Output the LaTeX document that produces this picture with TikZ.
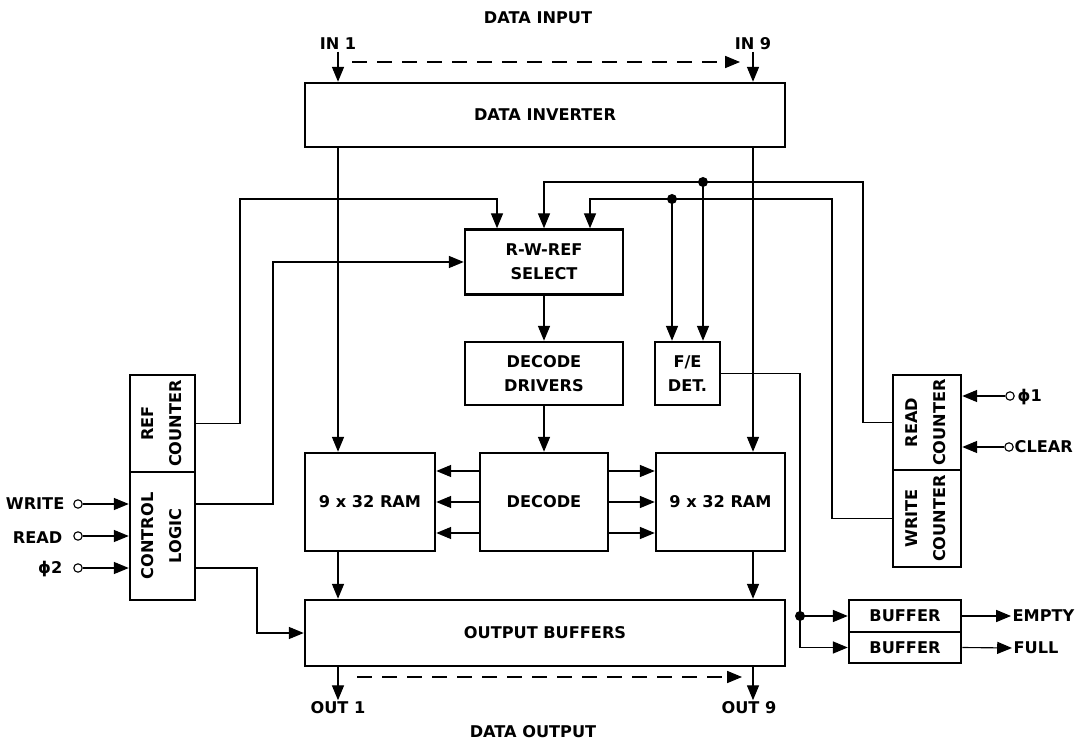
\documentclass[tikz,border=0pt]{standalone}
\usepackage{fontspec}
\setmainfont{DejaVu Sans}
\usepackage{graphicx}
\usepackage{tikz}
\usetikzlibrary{arrows.meta}
\newcommand{\sidelab}[2]{\rotatebox{90}{\begin{tabular}{@{}c@{}}#1\\[3pt]#2\end{tabular}}}
\tikzset{
  wire/.style={black, line width=0.8pt},
  flow/.style={wire, -{Triangle[length=3.7mm,width=3mm]}},
  dashflow/.style={flow, dash pattern=on 3.75mm off 2.5mm},
  block/.style={draw=black, line width=1.8pt, fill=white, inner sep=2pt,
                align=center, font=\fontsize{11.5}{17}\selectfont\bfseries},
  lab/.style={inner sep=1pt, font=\fontsize{11.5}{13}\selectfont\bfseries},
  pinin/.style={draw=black, line width=0.8pt, circle, fill=white,
                inner sep=0pt, minimum size=2.1mm},
  junct/.style={fill=black, circle, inner sep=0pt, minimum size=2.5mm},
}

\begin{document}
\begin{tikzpicture}[x=0.25mm,y=-0.25mm]
  \path[use as bounding box] (0,0) rectangle (1087,743);

  % data input side
  \node[lab] (din) at (538,17.5) {DATA INPUT};
  \node[lab] (in1) at (338,44) {IN 1};
  \node[lab] (in9) at (753,44) {IN 9};
  \coordinate (dsA) at (352,62);
  \coordinate (dsB) at (740,62);

  \node[block, minimum width=120mm, minimum height=16mm] (inv) at (545,115) {DATA INVERTER};

  % select, decode and memory
  \node[block, minimum width=39.5mm, minimum height=16.25mm] (sel) at (544,262) {R-W-REF\\SELECT};
  \node[block, minimum width=39.5mm, minimum height=15.75mm] (drv) at (544,373.5) {DECODE\\DRIVERS};
  \node[block, minimum width=16.25mm, minimum height=15.75mm] (fe) at (687.5,373.5) {F/E\\DET.};
  \node[block, minimum width=32.5mm, minimum height=24.5mm] (ramL) at (370,502) {9 x 32 RAM};
  \node[block, minimum width=32mm, minimum height=24.5mm] (dec) at (544,502) {DECODE};
  \node[block, minimum width=32.25mm, minimum height=24.5mm] (ramR) at (720.5,502) {9 x 32 RAM};
  \node[block, minimum width=120mm, minimum height=16.5mm] (obuf) at (545,633) {OUTPUT BUFFERS};

  % counters
  \node[block, minimum width=16.25mm, minimum height=24.25mm] (refc) at (162.5,423.5) {\sidelab{REF}{COUNTER}};
  \node[block, minimum width=16.25mm, minimum height=32mm] (ctl) at (162.5,536) {\sidelab{CONTROL}{LOGIC}};
  \node[block, minimum width=17mm, minimum height=23.75mm] (rdc) at (927,422.5) {\sidelab{READ}{COUNTER}};
  \node[block, minimum width=17mm, minimum height=24.25mm] (wrc) at (927,518.5) {\sidelab{WRITE}{COUNTER}};

  % flag buffers
  \node[block, minimum width=28mm, minimum height=8mm] (buf1) at (905,616) {BUFFER};
  \node[block, minimum width=28mm, minimum height=7.75mm] (buf2) at (905,647.5) {BUFFER};

  % data output side
  \node[lab] (out1) at (338,708) {OUT 1};
  \node[lab] (out9) at (749,708) {OUT 9};
  \node[lab] (dout) at (533,732) {DATA OUTPUT};
  \coordinate (dsC) at (357,677);
  \coordinate (dsD) at (742,677);

  % pins
  \node[pinin] (wrin) at (78,504) {};
  \node[pinin] (rdin) at (78,536) {};
  \node[pinin] (phtwo) at (78,568) {};
  \node[lab, anchor=east] (wrlab) at (66,504) {WRITE};
  \node[lab, anchor=east] (rdlab) at (64,538) {READ};
  \node[lab, anchor=east] (phtwolab) at (64,569) {ϕ2};
  \node[pinin] (phone) at (1010,396) {};
  \node[pinin] (clr) at (1009,447) {};
  \node[lab, anchor=west] (phonelab) at (1016,397) {ϕ1};
  \node[lab, anchor=west] (clrlab) at (1013,447) {CLEAR};
  \node[lab, anchor=west] (empty) at (1011,616) {EMPTY};
  \node[lab, anchor=west] (full) at (1012,648) {FULL};

  % junctions and bus corners
  \node[junct] (ja) at (703,182) {};
  \node[junct] (jb) at (672,199) {};
  \node[junct] (jc) at (800,616) {};
  \coordinate (refbus) at (240,199);
  \coordinate (ctlbus) at (273,503);
  \coordinate (obufbus) at (257,637);
  \coordinate (rdbus) at (863,182);
  \coordinate (wrbus) at (832,199);

  \draw[flow] (in1.south) -- (in1.south |- inv.north);
  \draw[flow] (in9.south) -- (in9.south |- inv.north);
  \draw[dashflow] (dsA) -- (dsB);
  \draw[flow] (inv.south -| in1) -- (ramL.north -| in1);
  \draw[flow] (inv.south -| in9) -- (ramR.north -| in9);

  % into the select
  \draw[flow] (refc.east) -| (refbus) -| ([xshift=-11.75mm]sel.north);
  \draw[flow] ([yshift=8mm]ctl.east) -| (ctlbus |- sel.west) -- (sel.west);
  \draw[flow] (rdc.west) -| (rdbus) -| (sel.north);
  \draw[flow] (wrc.west) -| (wrbus) -| ([xshift=11.5mm]sel.north);
  \draw[flow] (ja.center) -- (ja |- fe.north);
  \draw[flow] (jb.center) -- (jb |- fe.north);

  \draw[flow] (sel) -- (drv);
  \draw[flow] (drv) -- (dec);

  % decode to both RAMs
  \draw[flow] ([yshift=7.75mm]dec.west) -- ([yshift=7.75mm]ramL.east);
  \draw[flow] (dec.west) -- (ramL.east);
  \draw[flow] ([yshift=-7.75mm]dec.west) -- ([yshift=-7.75mm]ramL.east);
  \draw[flow] ([yshift=7.75mm]dec.east) -- ([yshift=7.75mm]ramR.west);
  \draw[flow] (dec.east) -- (ramR.west);
  \draw[flow] ([yshift=-7.75mm]dec.east) -- ([yshift=-7.75mm]ramR.west);

  \draw[flow] (ramL.south -| in1) -- (obuf.north -| in1);
  \draw[flow] (ramR.south -| in9) -- (obuf.north -| in9);
  \draw[flow] ([yshift=-8mm]ctl.east) -| (obufbus |- obuf.west) -- (obuf.west);
  \draw[flow] (obuf.south -| in1) -- (out1.north -| in1);
  \draw[flow] (obuf.south -| in9) -- (out9.north -| in9);
  \draw[dashflow] (dsC) -- (dsD);

  % full / empty flags
  \draw[wire] (fe.east) -| (jc.center);
  \draw[flow] (jc.center) -- (jc -| buf1.west);
  \draw[flow] (jc.center) |- (buf2.west);
  \draw[flow] (buf1.east) -- (empty.west);
  \draw[flow] (buf2.east) -- (full.west);

  % inputs
  \draw[flow] (wrin) -- (wrin -| ctl.west);
  \draw[flow] (rdin) -- (rdin -| ctl.west);
  \draw[flow] (phtwo) -- (phtwo -| ctl.west);
  \draw[flow] (phone) -- (phone -| rdc.east);
  \draw[flow] (clr) -- (clr -| rdc.east);
\end{tikzpicture}
\end{document}
